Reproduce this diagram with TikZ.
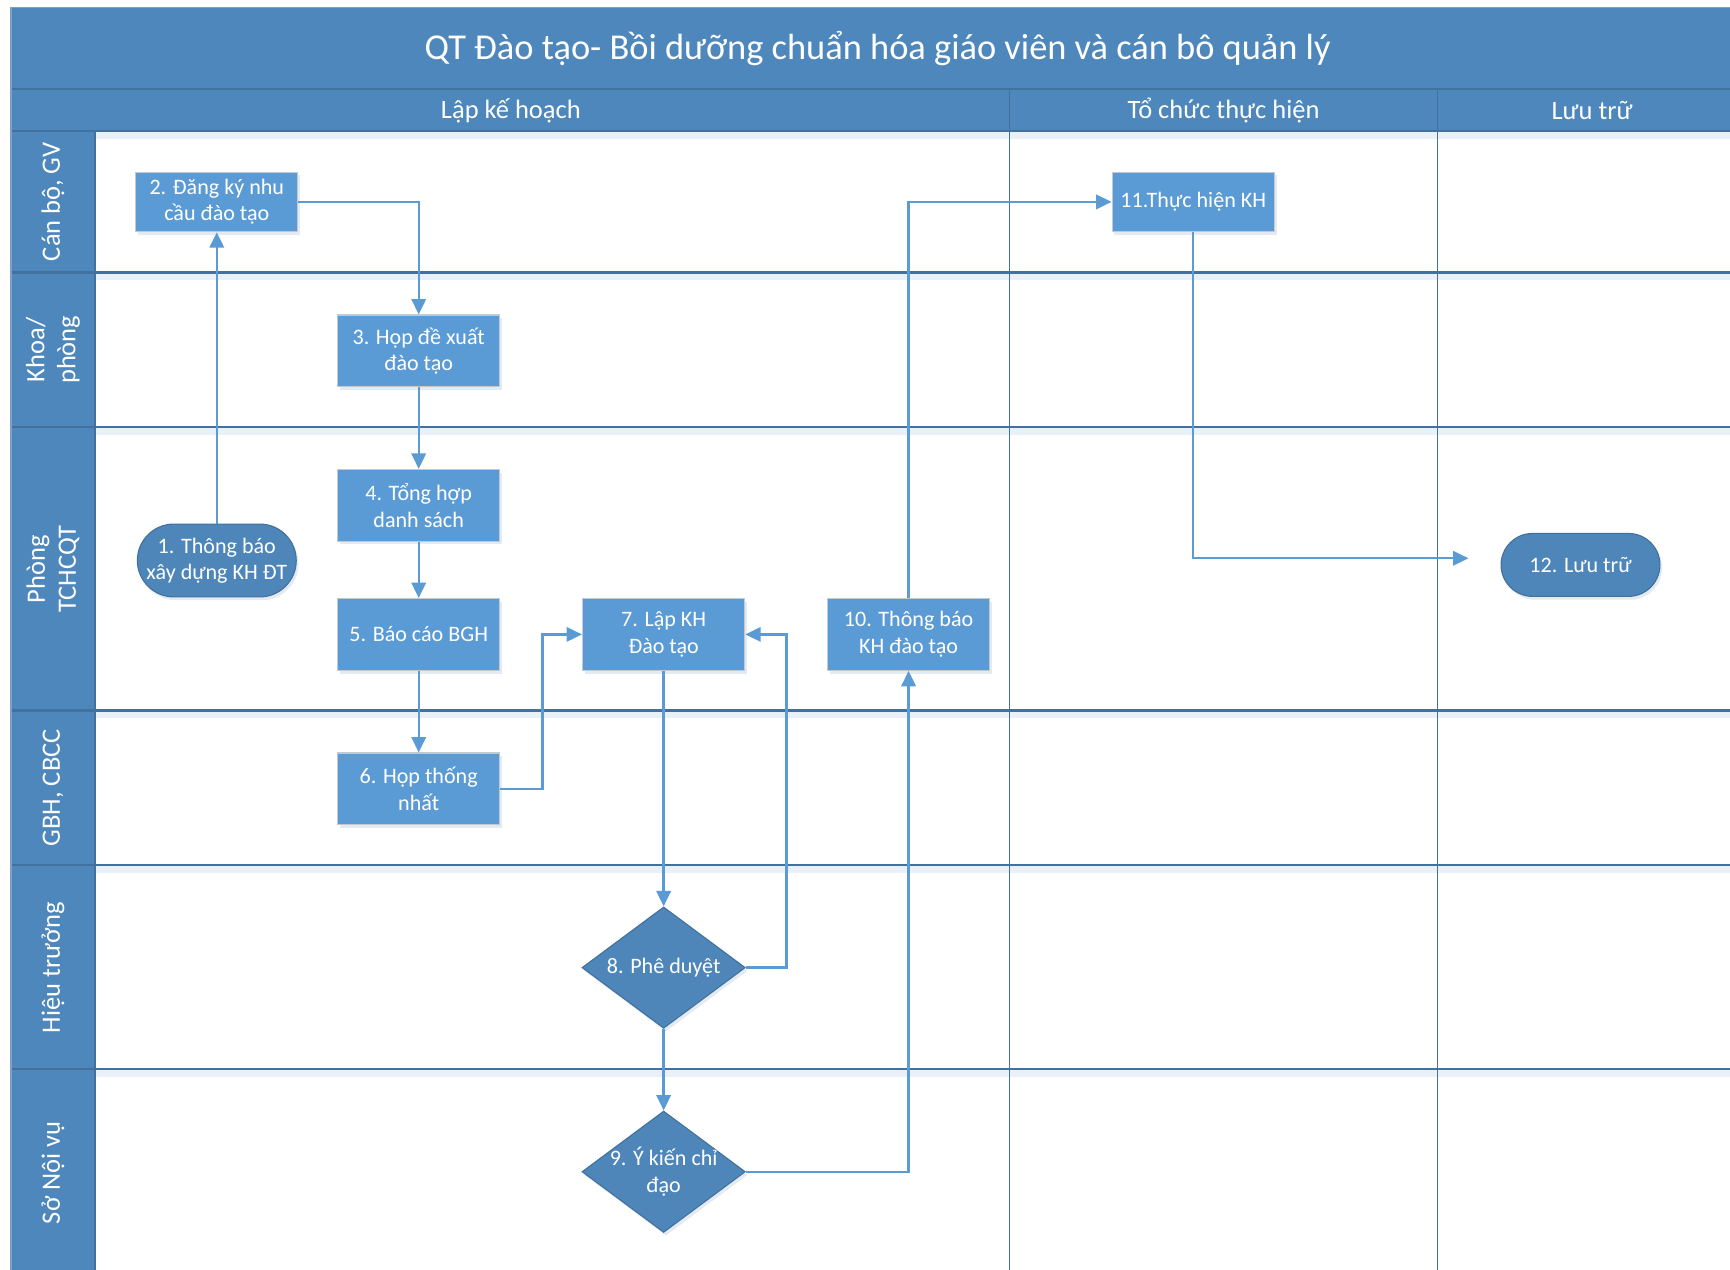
\documentclass[tikz,border=0pt]{standalone}
\usepackage{fontspec}
\setmainfont{Carlito}
\usetikzlibrary{shapes.geometric,shapes.misc,arrows.meta,shadows}
\definecolor{band}{HTML}{4E87BB}
\definecolor{sep}{HTML}{41719C}
\definecolor{frameline}{HTML}{7E9FC6}
\definecolor{boxfill}{HTML}{5B9BD5}
\definecolor{boxline}{HTML}{C4C9CF}
\definecolor{conncol}{HTML}{5B9BD5}
\definecolor{termfill}{HTML}{4E86BA}
\definecolor{glow}{HTML}{E9F0F8}
\begin{document}
\begin{tikzpicture}[x=1pt,y=-1pt,
  softshadow/.style={drop shadow={shadow xshift=2pt,shadow yshift=-3pt,opacity=.18,fill=boxfill!60!gray}},
  proc/.style={rectangle, fill=boxfill, draw=boxline, line width=1pt,
    minimum width=147pt, minimum height=65pt, inner sep=2pt, text=white,
    align=center, font=\fontsize{20}{24}\selectfont, softshadow},
  procs/.style={proc, minimum height=54pt},
  term/.style={rounded rectangle, fill=termfill, draw=sep, line width=1pt,
    minimum width=148pt, minimum height=66pt, inner sep=2pt, text=white,
    align=center, font=\fontsize{20}{24}\selectfont, softshadow},
  dec/.style={diamond, fill=termfill, draw=sep, line width=1pt,
    minimum width=148pt, minimum height=110pt, inner sep=0pt, softshadow},
  dectext/.style={text=white, align=center, font=\fontsize{20}{24}\selectfont, inner sep=0pt},
  lanelabel/.style={rotate=90, text=white, align=center, font=\fontsize{24}{28}\selectfont},
  phaselabel/.style={text=white, font=\fontsize{24}{28}\selectfont},
  conn/.style={draw=conncol, line width=2.2pt, -{Triangle[length=14pt,width=13pt]}},
  gridline/.style={draw=sep, line width=2pt},
  phaseline/.style={draw=sep, line width=1.4pt},
  glowline/.style={draw=glow, line width=6pt}
]
\useasboundingbox (0,0) rectangle (1568,1151);
\clip (0,0) rectangle (1568,1151);
\fill[white] (0,0) rectangle (1568,1151);

% bands
\fill[band] (10,7) rectangle (1590,119);
\fill[band] (10,119) rectangle (86,1170);

% soft glow under horizontal lines
\foreach \yy in {123,251,391,648,788,973} {\draw[glowline] (86,\yy) -- (1590,\yy);}

% grid
\draw[gridline] (10,81) -- (1590,81);
\draw[gridline] (10,119) -- (1590,119);
\foreach \yy in {247,387,644,784,969} {\draw[gridline] (10,\yy) -- (1590,\yy);}
\draw[phaseline] (915,81) -- (915,1170);
\draw[phaseline] (1303,81) -- (1303,1170);
\draw[phaseline] (86,119) -- (86,1170);
\draw[draw=frameline, line width=1.4pt] (10,1170) -- (10,7) -- (1590,7);

% title and phases
\node[text=white, font=\fontsize{33}{39}\selectfont] (title) at (795.5,44) {QT Đào tạo- Bồi dưỡng chuẩn hóa giáo viên và cán bô quản lý};
\node[phaselabel] (ph1) at (463,100) {Lập kế hoạch};
\node[phaselabel] (ph2) at (1109,100) {Tổ chức thực hiện};
\node[phaselabel] (ph3) at (1443,100) {Lưu trữ};

% lane labels
\node[lanelabel] (l1) at (48,183) {Cán bộ, GV};
\node[lanelabel] (l2) at (48,317) {Khoa/\\phòng};
\node[lanelabel] (l3) at (48,516) {Phòng\\TCHCQT};
\node[lanelabel] (l4) at (48,714) {GBH, CBCC};
\node[lanelabel] (l5) at (48,877) {Hiệu trưởng};
\node[lanelabel] (l6) at (48,1063) {Sở Nội vụ};

% nodes
\node[procs] (n2) at (196.5,183) {2. Đăng ký nhu\\cầu đào tạo};
\node[proc] (n3) at (379.5,318) {3. Họp đề xuất\\đào tạo};
\node[proc] (n4) at (379.5,458) {4. Tổng hợp\\danh sách};
\node[term] (n1) at (196.5,508) {1. Thông báo\\xây dựng KH ĐT};
\node[proc] (n5) at (379.5,575) {5. Báo cáo BGH};
\node[proc] (n7) at (601.5,575) {7. Lập KH\\Đào tạo};
\node[proc] (n10) at (823.5,575) {10. Thông báo\\KH đào tạo};
\node[proc] (n6) at (379.5,715) {6. Họp thống\\nhất};
\node[dec] (n8) at (601.5,877) {};
\node[dectext] at (n8.center) {8. Phê duyệt};
\node[dec] (n9) at (601.5,1062) {};
\node[dectext] at (n9.center) {9. Ý kiến chỉ\\đạo};
\node[procs] (n11) at (1081.5,183) {11.Thực hiện KH};
\node[term, minimum height=57pt] (n12) at (1432.5,512) {12. Lưu trữ};
\coordinate (c12) at (1331,506);

% connectors
\draw[conn] (n1.north) -- (n2.south);
\draw[conn] (n2.east) -| (n3.north);
\draw[conn] (n3.south) -- (n4.north);
\draw[conn] (n4.south) -- (n5.north);
\draw[conn] (n5.south) -- (n6.north);
\draw[conn] (n6.east) -- ++(38,0) |- (n7.west);
\draw[conn] (n7.south) -- (n8.north);
\draw[conn] (n8.east) -- ++(37,0) |- (n7.east);
\draw[conn] (n8.south) -- (n9.north);
\draw[conn] (n9.east) -| (n10.south);
\draw[conn] (n10.north) |- (n11.west);
\draw[conn] (n11.south) |- (c12);
\end{tikzpicture}
\end{document}
